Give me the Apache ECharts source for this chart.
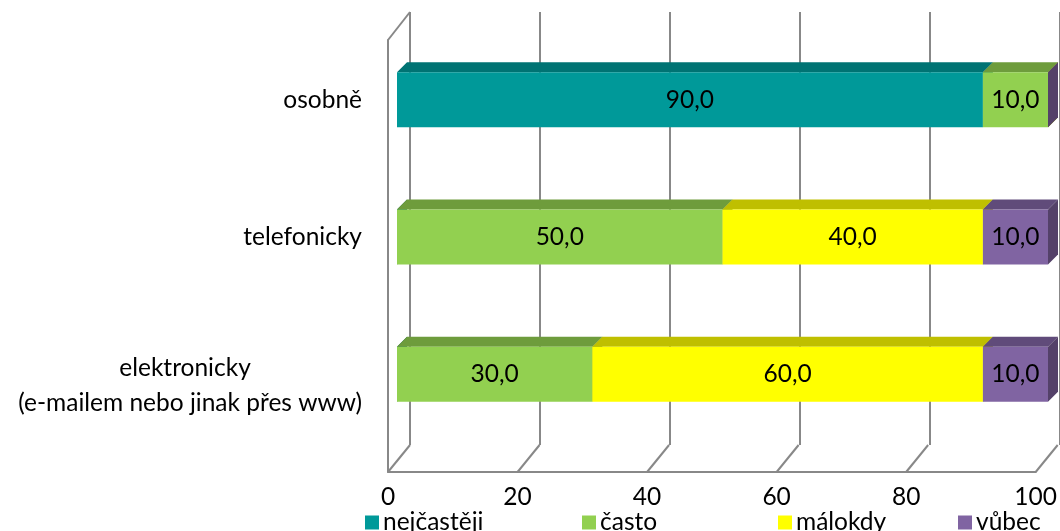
<!DOCTYPE html>
<html>
<head>
<meta charset="utf-8">
<script src="https://cdn.jsdelivr.net/npm/echarts@6/dist/echarts.min.js"></script>
<style>
    html, body { margin: 0; padding: 0; background: #fff; }
    #chart { width: 1060px; height: 531px; }
</style>
</head>
<body>
<div id="chart"></div>
<script>
const categories = ['osobně', 'telefonicky', 'elektronicky\n(e-mailem nebo jinak přes www)'];
const seriesNames = ['nejčastěji', 'často', 'málokdy', 'vůbec'];
const nejcasteji = [90, 0, 0];
const casto = [10, 50, 30];
const malokdy = [0, 40, 60];
const vubec = [0, 10, 10];
const xTicks = [0, 20, 40, 60, 80, 100];

const seriesValues = [nejcasteji, casto, malokdy, vubec];
const colors = [
    {front: '#009999', top: '#007373', side: '#006060'},
    {front: '#92D050', top: '#6E9C3C', side: '#5E8733'},
    {front: '#FFFF00', top: '#BFBF00', side: '#A6A600'},
    {front: '#8064A2', top: '#604B7A', side: '#544169'}
];
const fontName = 'Lato';
const fontSize = 24.5;
const gray = '#888888';
const depthX = 10, depthY = 10;

function fmt(v) {
    return v.toFixed(1).replace('.', ',');
}

function makeBarRender(c) {
    return function (params, api) {
        let start = api.value(0), end = api.value(1), cat = api.value(2), val = api.value(3);
        let a = api.coord([start, cat]);
        let b = api.coord([end, cat]);
        let h = api.size([0, 1])[1] * 0.4;
        let yTop = a[1] - h / 2, yBot = a[1] + h / 2;
        let children = [
            {type: 'polygon', shape: {points: [[a[0], yTop], [a[0] + depthX, yTop - depthY], [b[0] + depthX, yTop - depthY], [b[0], yTop]]}, style: {fill: c.top}},
            {type: 'polygon', shape: {points: [[b[0], yTop], [b[0] + depthX, yTop - depthY], [b[0] + depthX, yBot - depthY], [b[0], yBot]]}, style: {fill: c.side}},
            {type: 'rect', shape: {x: a[0], y: yTop, width: b[0] - a[0], height: h}, style: {fill: c.front}}
        ];
        if (val > 0) {
            children.push({
                type: 'text',
                style: {text: fmt(val), x: (a[0] + b[0]) / 2, y: a[1], align: 'center', verticalAlign: 'middle',
                    fill: '#000', font: fontSize + 'px ' + fontName}
            });
        }
        return {type: 'group', children: children};
    };
}

let chart = echarts.init(document.getElementById('chart'));

let series = [];
let running = categories.map(() => 0);
seriesValues.forEach(function (vals, s) {
    let data = vals.map(function (v, i) {
        let item = [running[i], running[i] + v, i, v];
        running[i] += v;
        return item;
    });
    series.push({
        name: seriesNames[s],
        type: 'custom',
        xAxisIndex: 0,
        yAxisIndex: 0,
        itemStyle: {color: colors[s].front},
        encode: {x: [0, 1], y: 2},
        renderItem: makeBarRender(colors[s]),
        data: data,
        z: 5
    });
});

// floor diagonals and left wall top edge
series.push({
    type: 'custom',
    xAxisIndex: 1,
    yAxisIndex: 1,
    silent: true,
    z: 1,
    encode: {x: 0, y: 1},
    renderItem: function (params, api) {
        let v = api.value(0);
        let p = api.coord([v, 0]);
        let children = [{type: 'line', shape: {x1: p[0], y1: p[1], x2: p[0] + 22, y2: p[1] - 27}, style: {stroke: gray, lineWidth: 2}}];
        if (v === 0) {
            let t = api.coord([0, 1]);
            children.push({type: 'line', shape: {x1: t[0], y1: t[1], x2: t[0] + 22, y2: t[1] - 28}, style: {stroke: gray, lineWidth: 2}});
        }
        return {type: 'group', children: children};
    },
    data: xTicks.map(v => [v, 0])
});

let legends = [360, 577, 773, 953].map(function (left, i) {
    return {
        data: [seriesNames[i]],
        left: left,
        top: 505,
        icon: 'rect',
        itemWidth: 14,
        itemHeight: 14,
        itemGap: 0,
        textStyle: {fontSize: fontSize, fontFamily: fontName, color: '#000', padding: [0, 0, 0, -1]}
    };
});

// the two-line category label sits a little lower in the reference
let yCategories = categories.map(function (c) {
    if (c.indexOf('\n') >= 0) {
        return {value: c, textStyle: {padding: [22, 0, 0, 0]}};
    }
    return c;
});

let option = {
    animation: false,
    backgroundColor: '#fff',
    legend: legends,
    grid: [
        {left: 397, right: 12, top: 31, bottom: 88},
        {left: 388, right: 20, top: 40, bottom: 59},
        {left: 410, right: -2, top: 12, bottom: 86}
    ],
    xAxis: [
        {gridIndex: 0, type: 'value', min: 0, max: 100, show: false},
        {
            gridIndex: 1, type: 'value', min: 0, max: 100, interval: 20,
            axisLine: {show: true, lineStyle: {color: gray, width: 2}},
            axisTick: {show: false},
            splitLine: {show: false},
            axisLabel: {fontSize: fontSize, fontFamily: fontName, color: '#000', margin: 13}
        },
        {
            gridIndex: 2, type: 'value', min: 0, max: 100, interval: 20,
            axisLine: {show: false},
            axisTick: {show: false},
            axisLabel: {show: false},
            splitLine: {show: true, lineStyle: {color: gray, width: 2}}
        }
    ],
    yAxis: [
        {
            gridIndex: 0, type: 'category', inverse: true, data: yCategories,
            axisLine: {show: false},
            axisTick: {show: false},
            axisLabel: {
                margin: 35,
                color: '#000',
                formatter: function (v) {
                    let parts = v.split('\n');
                    if (parts.length > 1) {
                        return '{c|' + parts[0] + '}\n{d|' + parts[1] + '}';
                    }
                    return '{d|' + v + '}';
                },
                rich: {
                    c: {fontSize: fontSize, fontFamily: fontName, color: '#000', width: 354, align: 'center', lineHeight: 35},
                    d: {fontSize: fontSize, fontFamily: fontName, color: '#000', lineHeight: 35}
                }
            }
        },
        {
            gridIndex: 1, type: 'value', min: 0, max: 1,
            axisLine: {show: true, lineStyle: {color: gray, width: 2}},
            axisTick: {show: false},
            axisLabel: {show: false},
            splitLine: {show: false}
        },
        {gridIndex: 2, type: 'value', min: 0, max: 1, show: false, splitLine: {show: false}}
    ],
    series: series
};
chart.setOption(option);
</script>
</body>
</html>
